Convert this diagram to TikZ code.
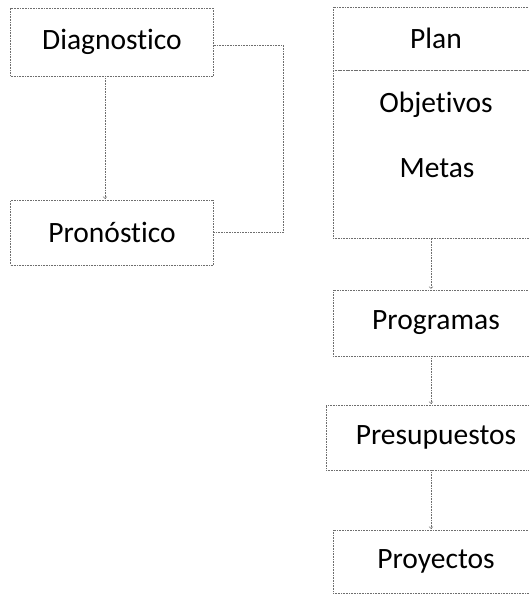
\documentclass[tikz,border=0pt]{standalone}
\usepackage{fontspec}
\setmainfont{Carlito}[Ligatures=NoCommon]
\definecolor{mygray}{RGB}{110,110,110}
\usetikzlibrary{positioning,calc}

\begin{document}
\begin{tikzpicture}[x=1pt,y=-1pt,
    every node/.style={font=\fontsize{29.5}{34}\selectfont,inner sep=0pt},
    caja/.style={draw=mygray,densely dotted,line width=0.6pt,minimum width=203pt,minimum height=68pt},
    cajader/.style={caja,minimum width=206pt,minimum height=64pt},
    flecha/.style={->,mygray,densely dotted,line width=0.6pt,shorten >=1pt},
    linea/.style={mygray,densely dotted,line width=0.6pt}
    ]
    \useasboundingbox (0,0) rectangle (528,595);

    % the left column
    \node[caja] (diag) at (112,42) {Diagnostico};
    \node[caja,minimum height=65pt] (prono) at (112,232.5) {Pronóstico};

    % the plan block
    \node[cajader,minimum height=63pt] (plan) at (436,38.5) {Plan};
    \node[cajader,minimum height=168pt,below=0pt of plan] (bloque) {};
    \node (obj) at (436,105) {Objetivos};
    \node (metas) at (437,168) {Metas};

    % the right column
    \node[cajader,minimum height=66pt] (prog) at (436,323) {Programas};
    \node[cajader,minimum width=220pt,minimum height=65pt] (presu) at (436,437.5) {Presupuestos};
    \node[cajader,minimum height=63pt] (proy) at (436,561.5) {Proyectos};

    % the connectors
    \coordinate (codo) at (283,45);
    \coordinate (eje) at (431,0);
    \draw[flecha] (diag.south -| 105,0) -- (prono.north -| 105,0);
    \draw[linea] (diag.east |- codo) -- (codo) |- (prono.east);
    \draw[flecha] (bloque.south -| eje) -- (prog.north -| eje);
    \draw[flecha] (prog.south -| eje) -- (presu.north -| eje);
    \draw[flecha] (presu.south -| eje) -- (proy.north -| eje);
\end{tikzpicture}
\end{document}
